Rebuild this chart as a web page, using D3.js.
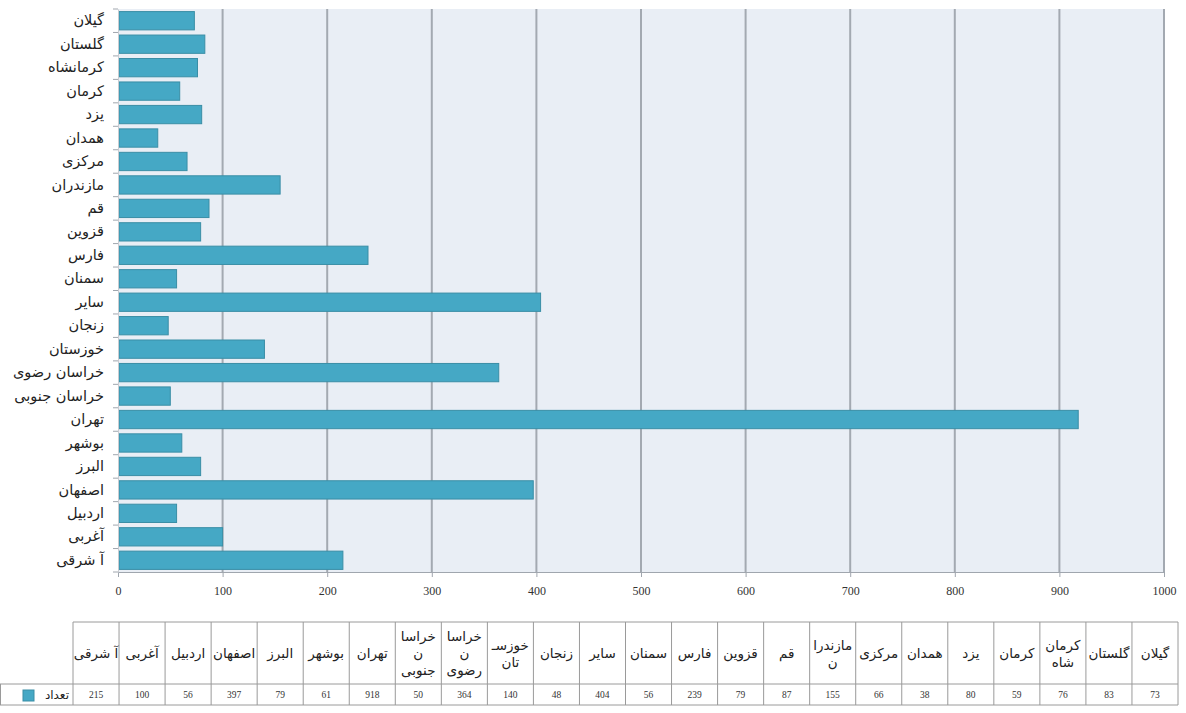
<!DOCTYPE html>
<html><head><meta charset="utf-8">
<script src="https://cdn.jsdelivr.net/npm/d3@7"></script>
<style>
html,body{margin:0;padding:0;background:#fff;}
svg{display:block;}
</style></head>
<body>
<script>
// Data (table order: left to right = bottom to top of chart)
const categories = ["آ شرقی","آغربی","اردبیل","اصفهان","البرز","بوشهر","تهران","خراسان جنوبی","خراسان رضوی","خوزستان","زنجان","سایر","سمنان","فارس","قزوین","قم","مازندران","مرکزی","همدان","یزد","کرمان","کرمانشاه","گلستان","گیلان"];
const values = [215,100,56,397,79,61,918,50,364,140,48,404,56,239,79,87,155,66,38,80,59,76,83,73];
const tableHeaders = ["آ شرقی","آغربی","اردبیل","اصفهان","البرز","بوشهر","تهران","خراسا\nن\nجنوبی","خراسا\nن\nرضوی","خوزسـ\nتان","زنجان","سایر","سمنان","فارس","قزوین","قم","مازندرا\nن","مرکزی","همدان","یزد","کرمان","کرمان\nشاه","گلستان","گیلان"];
const seriesName = "تعداد";
const xTicks = [0,100,200,300,400,500,600,700,800,900,1000];

const W = 1186, H = 713;
const svg = d3.select("body").append("svg").attr("width", W).attr("height", H);

const plot = {left:118, right:1164, top:9, bottom:572};
const x = d3.scaleLinear().domain([0,1000]).range([plot.left, plot.right]);
const y = d3.scaleBand().domain(categories.slice().reverse()).range([plot.top, plot.bottom]).paddingInner(0.22).paddingOuter(0.11);

// background
svg.append("rect").attr("x", plot.left).attr("y", plot.top)
  .attr("width", plot.right-plot.left).attr("height", plot.bottom-plot.top)
  .attr("fill", "#e9eef5");

// gridlines
svg.append("g").selectAll("line").data(xTicks.filter(d=>d>0)).join("line")
  .attr("x1", d=>x(d)).attr("x2", d=>x(d))
  .attr("y1", plot.top).attr("y2", plot.bottom)
  .attr("stroke", "#a3a9b1").attr("stroke-width", 2);

// bars
svg.append("g").selectAll("rect").data(categories).join("rect")
  .attr("x", x(0)+1)
  .attr("y", d=>y(d))
  .attr("width", (d,i)=>x(values[i])-x(0)-1)
  .attr("height", y.bandwidth())
  .attr("fill", "#45a8c5")
  .attr("stroke", "#3a8ea6").attr("stroke-width", 1);

// x axis
const xAxis = d3.axisBottom(x).tickValues(xTicks).tickFormat(d3.format("d")).tickSize(5).tickPadding(9);
const gx = svg.append("g").attr("transform", `translate(0,${plot.bottom})`).call(xAxis);
gx.select(".domain").attr("stroke", "#a0a6ae");
gx.selectAll(".tick line").attr("stroke", "#a0a6ae");
gx.selectAll("text").attr("font-family", "Liberation Serif, serif").attr("font-size", 12).attr("fill", "#333");

// y axis
const step = y.step();
const yAxis = d3.axisLeft(y).tickSize(0).tickPadding(14);
const gy = svg.append("g").attr("transform", `translate(${plot.left},0)`).call(yAxis);
gy.select(".domain").attr("stroke", "#c9ccd1");
gy.selectAll("text").attr("font-family", "DejaVu Sans, sans-serif").attr("font-size", 14.5).attr("fill", "#222");
// boundary ticks
const bounds = d3.range(categories.length+1).map(i => plot.top + y.paddingOuter()*step - y.paddingInner()*step/2 + i*step);
svg.append("g").selectAll("line").data(bounds).join("line")
  .attr("x1", plot.left-5).attr("x2", plot.left)
  .attr("y1", d=>d).attr("y2", d=>d)
  .attr("stroke", "#a0a6ae");

// data table
const tbl = {left:73, right:1178, top:622, mid:684, bottom:705};
const colW = (tbl.right - tbl.left)/categories.length;
const tg = svg.append("g");
const border = "#9a9a9a";
tg.append("line").attr("x1", tbl.left).attr("x2", tbl.right).attr("y1", tbl.top).attr("y2", tbl.top).attr("stroke", border);
tg.append("line").attr("x1", 0).attr("x2", tbl.right).attr("y1", tbl.mid).attr("y2", tbl.mid).attr("stroke", border);
tg.append("line").attr("x1", 0).attr("x2", tbl.right).attr("y1", tbl.bottom).attr("y2", tbl.bottom).attr("stroke", border);
tg.append("line").attr("x1", 0.5).attr("x2", 0.5).attr("y1", tbl.mid).attr("y2", tbl.bottom).attr("stroke", border);
d3.range(categories.length+1).forEach(i => {
  tg.append("line").attr("x1", tbl.left+i*colW).attr("x2", tbl.left+i*colW)
    .attr("y1", tbl.top).attr("y2", tbl.bottom).attr("stroke", border);
});
// headers
tableHeaders.forEach((h,i) => {
  const lines = h.split("\n");
  const lh = 17;
  const cy = (tbl.top + tbl.mid)/2;
  const t = tg.append("text")
    .attr("x", tbl.left + (i+0.5)*colW)
    .attr("text-anchor", "middle")
    .attr("font-family", "DejaVu Sans, sans-serif").attr("font-size", 13.5).attr("fill", "#222");
  lines.forEach((l,k) => {
    t.append("tspan").attr("x", tbl.left + (i+0.5)*colW)
      .attr("y", cy + (k - (lines.length-1)/2)*lh + 5).text(l);
  });
});
// values
values.forEach((v,i) => {
  tg.append("text").attr("x", tbl.left + (i+0.5)*colW).attr("y", (tbl.mid+tbl.bottom)/2 + 3.5)
    .attr("text-anchor", "middle")
    .attr("font-family", "Liberation Serif, serif").attr("font-size", 9.5).attr("fill", "#333")
    .text(v);
});
// legend cell
tg.append("rect").attr("x", 23).attr("y", 690).attr("width", 11).attr("height", 11)
  .attr("fill", "#45a8c5").attr("stroke", "#3a8ea6");
tg.append("text").attr("x", 69).attr("y", 699).attr("text-anchor", "end")
  .attr("font-family", "DejaVu Sans, sans-serif").attr("font-size", 12).attr("fill", "#222")
  .text(seriesName);
</script>
</body></html>
